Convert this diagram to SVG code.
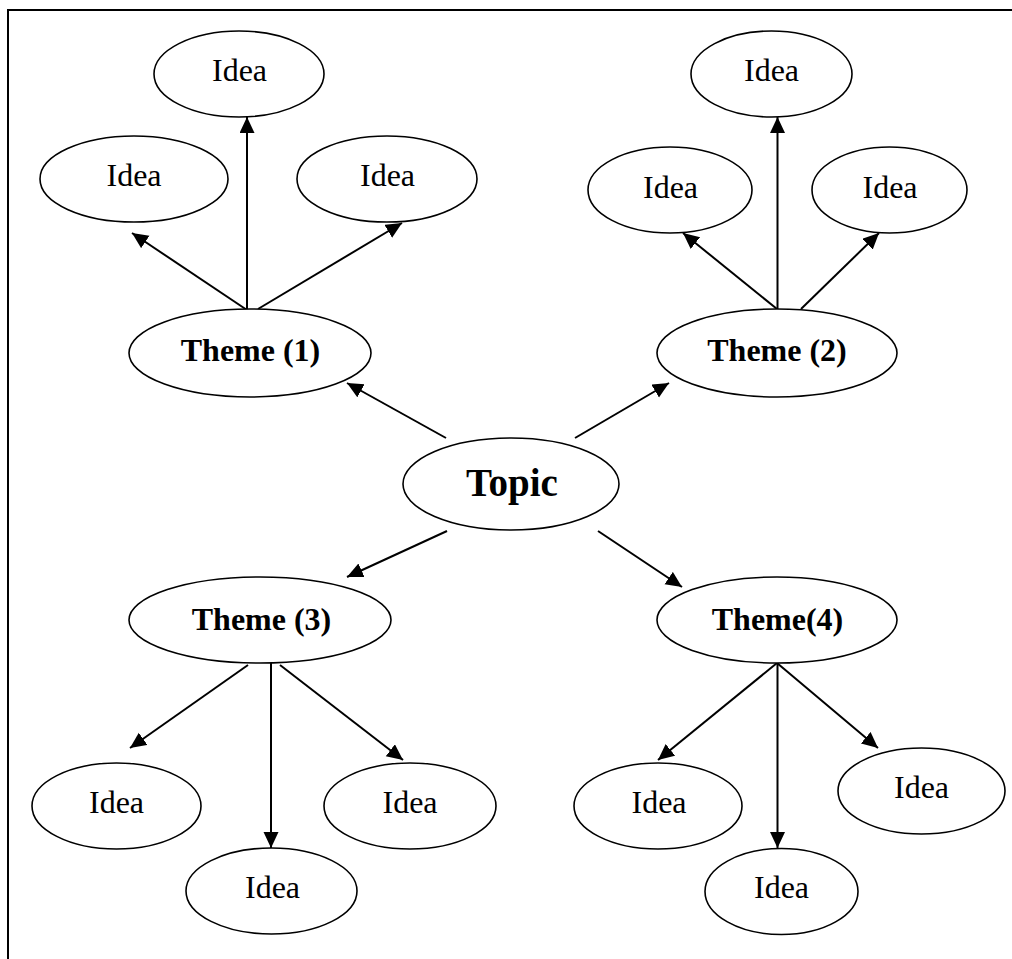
<svg xmlns="http://www.w3.org/2000/svg" width="1012" height="959" viewBox="0 0 1012 959">
<style>
.n{fill:#fff;stroke:#000;stroke-width:1.6}
.t{font-family:"Liberation Serif","Times New Roman",serif;font-size:32px;text-anchor:middle;fill:#000}
.b{font-weight:bold}
.c line{stroke:#000;stroke-width:2;marker-end:url(#ah)}
</style>
<defs>
<marker id="ah" markerUnits="userSpaceOnUse" markerWidth="17" markerHeight="16" refX="16" refY="7.5" orient="auto">
<path d="M0,0 L16,7.5 L0,15 z" fill="#000"/>
</marker>
</defs>
<rect width="1012" height="959" fill="#fff"/>
<path d="M8,959 V10 H1012" fill="none" stroke="#000" stroke-width="2"/>
<g id="connectors" class="c">
<line x1="247" y1="310" x2="247" y2="117"/>
<line x1="247" y1="310" x2="132" y2="233"/>
<line x1="258" y1="309" x2="402" y2="223"/>
<line x1="777.5" y1="310" x2="777.5" y2="117"/>
<line x1="777" y1="309" x2="683" y2="233"/>
<line x1="801" y1="309" x2="879" y2="233"/>
<line x1="446" y1="438" x2="347" y2="383"/>
<line x1="575" y1="438" x2="669" y2="383"/>
<line x1="447" y1="531" x2="347" y2="577"/>
<line x1="598" y1="531" x2="682" y2="587"/>
<line x1="271" y1="662" x2="271" y2="848"/>
<line x1="248" y1="665" x2="130" y2="748"/>
<line x1="280" y1="665" x2="403" y2="760"/>
<line x1="777.5" y1="662" x2="777.5" y2="848"/>
<line x1="777" y1="663" x2="658" y2="760"/>
<line x1="777" y1="663" x2="878" y2="748"/>
</g>
<g id="topic"><ellipse class="n" cx="511" cy="484" rx="108" ry="46"/><text class="t b" x="512" y="496" style="font-size:39px">Topic</text></g>
<g id="theme1"><ellipse class="n" cx="250" cy="353" rx="121" ry="44"/><text class="t b" x="250.5" y="361">Theme (1)</text></g>
<g id="theme2"><ellipse class="n" cx="777" cy="353" rx="120" ry="44"/><text class="t b" x="777" y="361">Theme (2)</text></g>
<g id="theme3"><ellipse class="n" cx="260" cy="620" rx="131" ry="43"/><text class="t b" x="261.5" y="630">Theme (3)</text></g>
<g id="theme4"><ellipse class="n" cx="777" cy="620" rx="120" ry="43"/><text class="t b" x="777.5" y="630">Theme(4)</text></g>
<g id="idea1a"><ellipse class="n" cx="239" cy="74" rx="85" ry="43"/><text class="t" x="239.5" y="81">Idea</text></g>
<g id="idea1b"><ellipse class="n" cx="134" cy="179" rx="94" ry="43"/><text class="t" x="134" y="186">Idea</text></g>
<g id="idea1c"><ellipse class="n" cx="387" cy="179" rx="90" ry="43"/><text class="t" x="387.5" y="186">Idea</text></g>
<g id="idea2a"><ellipse class="n" cx="771.5" cy="74" rx="80.5" ry="43"/><text class="t" x="771.5" y="81">Idea</text></g>
<g id="idea2b"><ellipse class="n" cx="670" cy="190" rx="82" ry="43"/><text class="t" x="670.5" y="198">Idea</text></g>
<g id="idea2c"><ellipse class="n" cx="889.5" cy="190" rx="77.5" ry="43"/><text class="t" x="890" y="198">Idea</text></g>
<g id="idea3a"><ellipse class="n" cx="116.5" cy="806" rx="84.5" ry="43"/><text class="t" x="116.5" y="813">Idea</text></g>
<g id="idea3b"><ellipse class="n" cx="271.5" cy="891" rx="85.5" ry="43"/><text class="t" x="272.5" y="898">Idea</text></g>
<g id="idea3c"><ellipse class="n" cx="410" cy="806" rx="86" ry="43"/><text class="t" x="410" y="813">Idea</text></g>
<g id="idea4a"><ellipse class="n" cx="658" cy="806" rx="84" ry="43"/><text class="t" x="659" y="813">Idea</text></g>
<g id="idea4b"><ellipse class="n" cx="781.5" cy="891.5" rx="76.5" ry="43"/><text class="t" x="781.5" y="898">Idea</text></g>
<g id="idea4c"><ellipse class="n" cx="921.5" cy="791" rx="83.5" ry="43"/><text class="t" x="921.5" y="798">Idea</text></g>
</svg>
